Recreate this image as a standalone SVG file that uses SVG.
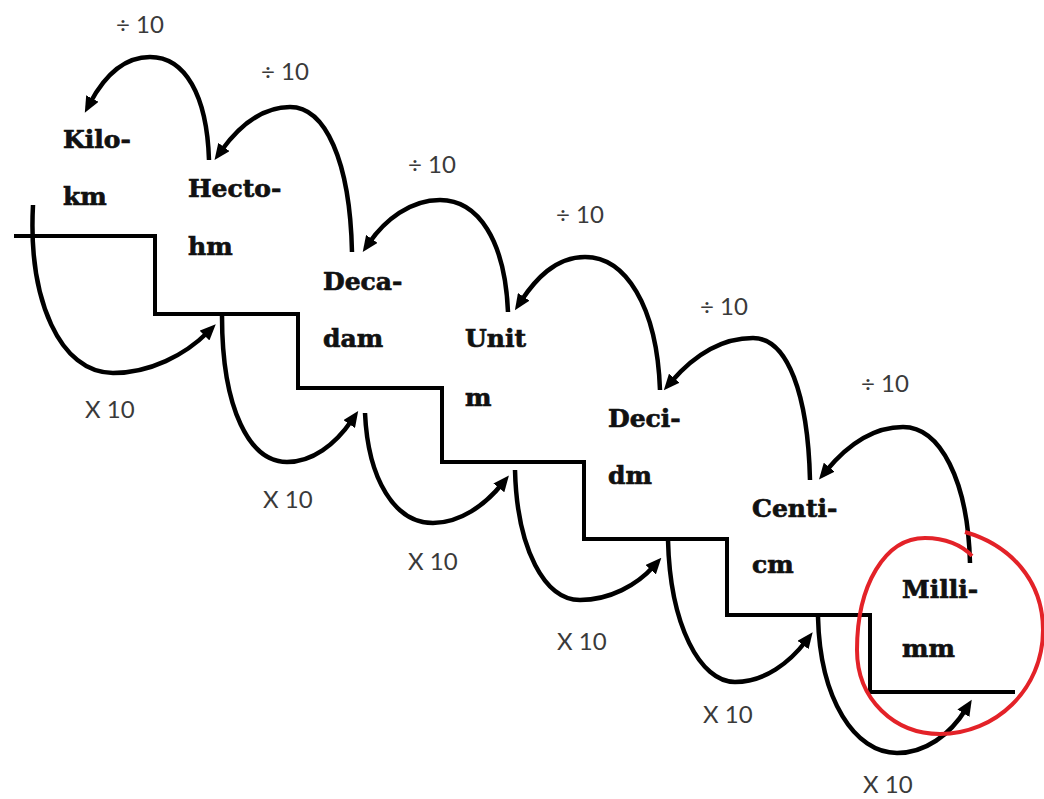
<svg xmlns="http://www.w3.org/2000/svg" width="1044" height="799" viewBox="0 0 1044 799">
  <style>
    .unit { font-family: "DejaVu Serif", "Liberation Serif", serif; font-weight: bold; font-size: 25px; fill: #111; stroke: #111; stroke-width: 0.7; }
    .op { font-family: Lato, "Open Sans", sans-serif; font-size: 24px; fill: #3a3a3a; }
    .line { fill: none; stroke: #000; stroke-width: 4; stroke-linejoin: miter; }
    .arc { fill: none; stroke: #000; stroke-width: 4.5; stroke-linecap: butt; marker-end: url(#head); }
  </style>
  <defs>
    <marker id="head" markerUnits="userSpaceOnUse" viewBox="0 0 16 14" markerWidth="16" markerHeight="14" refX="5" refY="7" orient="auto">
      <path d="M0,0 L16,7 L0,14 z" fill="#000"/>
    </marker>
  </defs>
  <rect width="1044" height="799" fill="#fff"/>

  <!-- staircase -->
  <g id="staircase">
    <polyline class="line" points="14,236 155,236 155,314 298,314 298,388 442,388 442,462 584,462 584,539 727,539 727,615 870,615 870,692 1015,692"/>
  </g>

  <!-- units -->
  <g id="node-kilo"><text class="unit" x="63" y="148">Kilo-</text><text class="unit" x="63" y="205">km</text></g>
  <g id="node-hecto"><text class="unit" x="188" y="197">Hecto-</text><text class="unit" x="188" y="255">hm</text></g>
  <g id="node-deca"><text class="unit" x="323" y="290">Deca-</text><text class="unit" x="323" y="347">dam</text></g>
  <g id="node-unit"><text class="unit" x="465" y="347">Unit</text><text class="unit" x="465" y="406">m</text></g>
  <g id="node-deci"><text class="unit" x="608" y="427">Deci-</text><text class="unit" x="608" y="484">dm</text></g>
  <g id="node-centi"><text class="unit" x="752" y="517">Centi-</text><text class="unit" x="752" y="573">cm</text></g>
  <g id="node-milli"><text class="unit" x="902" y="598">Milli-</text><text class="unit" x="902" y="657">mm</text></g>

  <!-- conversion arrows -->
  <g id="connectors">
    <!-- divide by 10: moving up the scale -->
    <path class="arc" d="M209,160 C207,95 185,57 150,57 C125,57 105,75 90,103"/>
    <path class="arc" d="M352,252 C350,160 325,107 290,107 C262,107 240,125 221,151"/>
    <path class="arc" d="M508,312 C505,240 478,200 440,200 C410,200 385,220 369,243"/>
    <path class="arc" d="M660,390 C657,305 625,257 585,257 C555,257 535,280 521,301"/>
    <path class="arc" d="M810,480 C808,395 788,338 753,338 C718,338 690,360 671,382"/>
    <path class="arc" d="M970,563 C968,480 940,427 903,427 C870,427 845,448 826,471"/>

    <!-- multiply by 10: moving down the scale -->
    <path class="arc" d="M33,205 C28,300 60,373 113,373 C150,373 185,355 208,332"/>
    <path class="arc" d="M222,316 C222,410 250,462 287,462 C312,462 335,445 352,420"/>
    <path class="arc" d="M365,413 C368,480 395,523 433,523 C460,523 485,505 502,484"/>
    <path class="arc" d="M515,470 C517,550 545,600 580,600 C610,600 637,585 654,566"/>
    <path class="arc" d="M668,540 C670,625 700,682 735,682 C765,682 790,662 806,641"/>
    <path class="arc" d="M818,617 C820,700 855,753 897,753 C925,753 950,735 966,709"/>

    <g id="labels">
      <text class="op" x="116" y="33">÷ 10</text>
      <text class="op" x="261" y="80">÷ 10</text>
      <text class="op" x="408" y="173">÷ 10</text>
      <text class="op" x="556" y="223">÷ 10</text>
      <text class="op" x="700" y="315">÷ 10</text>
      <text class="op" x="861" y="392">÷ 10</text>
      <text class="op" x="85" y="418">X 10</text>
      <text class="op" x="263" y="508">X 10</text>
      <text class="op" x="408" y="570">X 10</text>
      <text class="op" x="557" y="650">X 10</text>
      <text class="op" x="703" y="723">X 10</text>
      <text class="op" x="863" y="793">X 10</text>
    </g>
  </g>

  <!-- hand-drawn highlight ring -->
  <path id="highlight" d="M965,532 C1010,545 1043,580 1043,630 C1043,690 995,734 940,734 C895,734 857,700 857,650 C857,585 885,538 925,538 C945,538 962,545 972,556" fill="none" stroke="#e32228" stroke-width="4"/>
</svg>
